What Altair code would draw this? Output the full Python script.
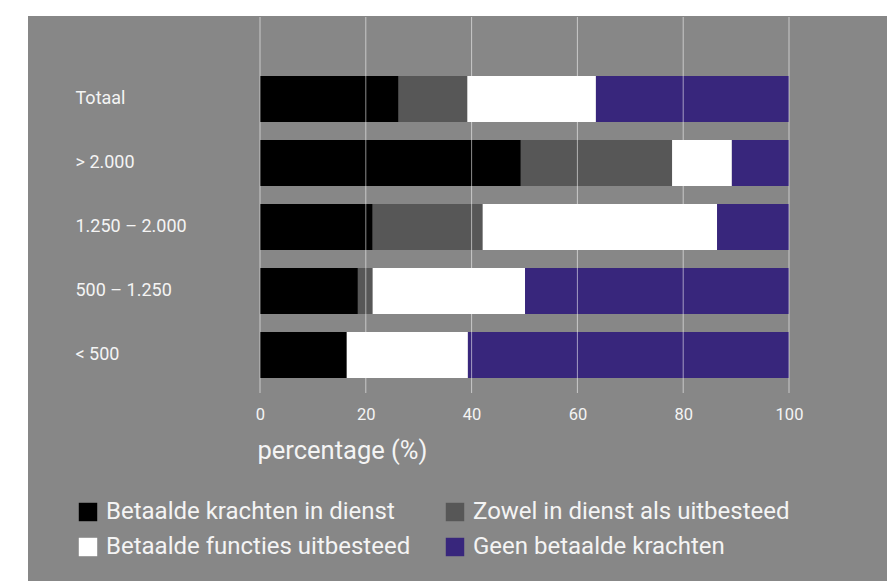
import altair as alt
import pandas as pd

categories = ["Totaal", "> 2.000", "1.250 – 2.000", "500 – 1.250", "< 500"]
series = ["Betaalde krachten in dienst", "Zowel in dienst als uitbesteed",
          "Betaalde functies uitbesteed", "Geen betaalde krachten"]
colors = ["#000000", "#575757", "#ffffff", "#38267c"]

in_dienst = [26.2, 49.3, 21.3, 18.5, 16.4]
zowel = [13.0, 28.6, 20.8, 2.8, 0.0]
uitbesteed = [24.3, 11.3, 44.3, 28.8, 22.9]
geen = [36.5, 10.8, 13.6, 49.9, 60.7]

ticks = [0, 20, 40, 60, 80, 100]

rows = []
for i, c in enumerate(categories):
    for j, (s, vals) in enumerate(zip(series, [in_dienst, zowel, uitbesteed, geen])):
        rows.append({"cat": c, "serie": s, "pct": vals[i], "ord": j})
df = pd.DataFrame(rows)

FONT = "Roboto"
TXT = "#f4f4f4"
BG = "#878787"

xscale = alt.Scale(domain=[0, 100], nice=False, zero=True)
xaxis = alt.Axis(values=ticks, title="percentage (%)", grid=False, domain=False,
                 ticks=False, tickSize=0, labelPadding=27, labelBaseline="middle",
                 labelFlush=False, labelOverlap=False,
                 labelFont=FONT, labelFontSize=16.5, labelColor=TXT,
                 titleFont=FONT, titleFontSize=25.5, titleColor=TXT, titleFontWeight="normal",
                 titleAnchor="start", titleAlign="left", titleBaseline="alphabetic",
                 titleX=-3, titleY=71, zindex=1)

bg = alt.Chart(alt.Data(values=[{"a": 1}])).mark_rect(color=BG).encode(
    x=alt.value(-232), x2=alt.value(627), y=alt.value(-51), y2=alt.value(514)
)

bars = alt.Chart(df).mark_bar().encode(
    y=alt.Y("cat:N", sort=categories,
            scale=alt.Scale(paddingInner=0.28125, paddingOuter=0.140625),
            axis=alt.Axis(title=None, domain=False, ticks=False, tickSize=0, grid=False,
                          labelPadding=185, labelAlign="left", labelBaseline="middle",
                          labelFont=FONT, labelFontSize=18, labelColor=TXT, zindex=1)),
    x=alt.X("sum(pct):Q", scale=xscale, axis=xaxis, stack="zero"),
    color=alt.Color("serie:N", sort=series,
                    scale=alt.Scale(domain=series, range=colors),
                    legend=alt.Legend(title=None, orient="none", legendX=-184, legendY=433,
                                      columns=2, direction="horizontal",
                                      symbolType="square", symbolSize=340,
                                      symbolStrokeWidth=0, symbolOpacity=1,
                                      labelOffset=6, columnPadding=32, rowPadding=11,
                                      labelFont=FONT, labelFontSize=24, labelColor=TXT,
                                      labelLimit=400, zindex=1)),
    order=alt.Order("ord:Q", sort="ascending"),
)

grid = alt.Chart(pd.DataFrame({"pct": ticks})).mark_rule(
    color="white", opacity=0.55, strokeWidth=1
).encode(
    x=alt.X("pct:Q", scale=xscale, axis=xaxis),
    y=alt.value(-50), y2=alt.value(326),
)

chart = alt.layer(bg, bars, grid).properties(
    width=529, height=320,
    autosize=alt.AutoSizeParams(type="none"),
    padding={"left": 260, "top": 67, "right": 98, "bottom": 194},
    background="white",
).configure_view(stroke=None)

chart.save("out.html", embed_options={"renderer": "svg", "actions": False})
